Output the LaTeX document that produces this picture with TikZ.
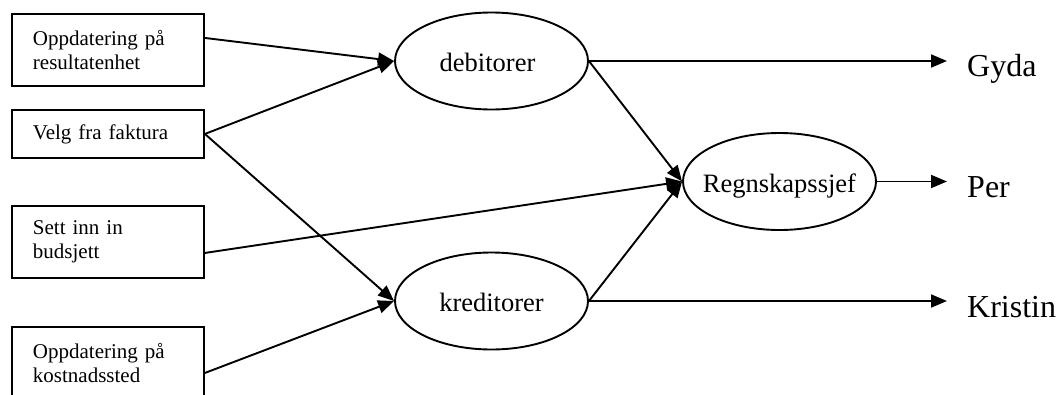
\documentclass[tikz,border=0pt]{standalone}
\usepackage{fontspec}
\setmainfont{Liberation Serif}
\usetikzlibrary{shapes.geometric,arrows.meta}

\tikzset{
  inbox/.style={draw, line width=1.9pt, anchor=north west, minimum width=192pt,
    text width=150pt, inner xsep=21pt, inner ysep=0pt, align=left,
    font=\fontsize{21}{23.5}\selectfont},
  role/.style={draw, ellipse, line width=1.9pt, minimum width=193pt,
    minimum height=97pt, inner sep=0pt, text height=21pt, text depth=0pt,
    font=\fontsize{26.5}{30}\selectfont},
  person/.style={anchor=base west, inner sep=0pt, font=\fontsize{32}{38}\selectfont},
  flow/.style={line width=1.9pt, -{Triangle[length=16pt,width=13pt]}}
}

\begin{document}
\begin{tikzpicture}[x=1pt, y=-1pt]
  \useasboundingbox (0,0) rectangle (1058,394);
  \clip (0,0) rectangle (1058,394);

  % input boxes
  \node[inbox, minimum height=72pt] (res) at (11,13) {Oppdatering på\\resultatenhet};
  \node[inbox, minimum height=48pt] (fak) at (11,109) {Velg fra faktura};
  \node[inbox, minimum height=72pt] (bud) at (11,205) {Sett inn in\\budsjett};
  \node[inbox, minimum height=72pt] (kost) at (11,326) {Oppdatering på\\kostnadssted};

  % ledger roles
  \node[role] (deb) at (491.5,61) {\makebox[0pt]{\hspace*{-8pt}debitorer}};
  \node[role] (kred) at (491.5,301) {\makebox[0pt]{kreditorer}};
  \node[role] (regn) at (779.5,181.5) {\makebox[0pt]{Regnskapssjef}};

  % people
  \node[person] (gyda) at (967,76) {Gyda};
  \node[person] (per) at (967,197) {Per};
  \node[person] (kristin) at (967,317) {Kristin};

  % flows into the ledgers
  \draw[flow] ([yshift=12pt]res.east) -- (deb.west);
  \draw[flow] (fak.east) -- (deb.west);
  \draw[flow] (fak.east) -- (kred.west);
  \draw[flow] ([yshift=-10pt]kost.east) -- (kred.west);
  \draw[flow] ([yshift=-11pt]bud.east) -- (regn.west);
  \draw[flow] (deb.east) -- (regn.west);
  \draw[flow] (kred.east) -- (regn.west);

  % flows out to people
  \draw[flow] (deb.east) -- ([xshift=-20pt]deb.east -| gyda.west);
  \draw[flow] (regn.east) -- ([xshift=-20pt]regn.east -| per.west);
  \draw[flow] (kred.east) -- ([xshift=-20pt]kred.east -| kristin.west);
\end{tikzpicture}
\end{document}
